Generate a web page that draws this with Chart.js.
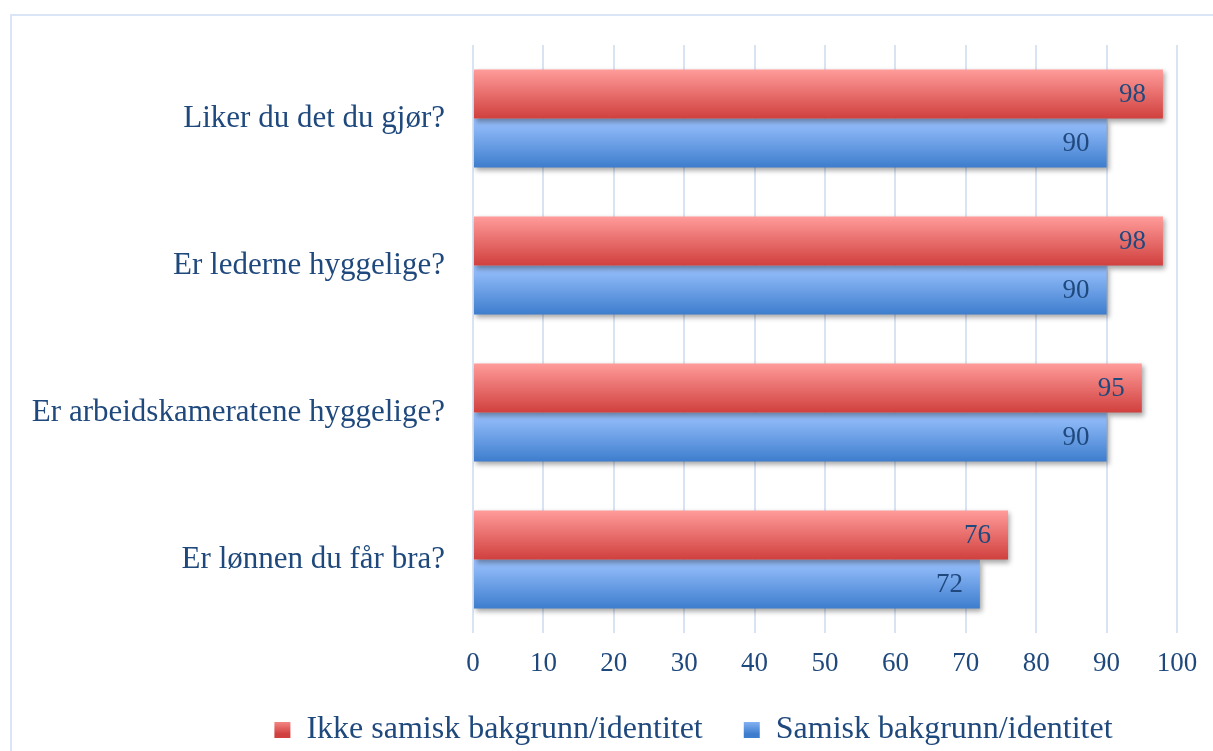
<!DOCTYPE html>
<html>
<head>
<meta charset="utf-8">
<script src="https://cdn.jsdelivr.net/npm/chart.js"></script>
<style>
  html, body { margin: 0; padding: 0; background: #fff; overflow: hidden; }
  #frame { position: absolute; left: 10px; top: 14px; width: 1300px; height: 800px; border: 2px solid #dae5f5; }
  #wrap { position: absolute; left: 0; top: 0; width: 1213px; height: 751px; }
</style>
</head>
<body>
<div id="frame"></div>
<div id="wrap"><canvas id="chart"></canvas></div>
<script>
const categories = ["Liker du det du gjør?", "Er lederne hyggelige?", "Er arbeidskameratene hyggelige?", "Er lønnen du får bra?"]
const ikkeSamisk = [98, 98, 95, 76]
const samisk = [90, 90, 90, 72]
const seriesNames = ["Ikke samisk bakgrunn/identitet", "Samisk bakgrunn/identitet"]
const xTicks = [0, 10, 20, 30, 40, 50, 60, 70, 80, 90, 100]

const textColor = "#1f497d"
const fontFamily = "'Liberation Serif', 'DejaVu Serif', serif"
const gradients = [
  ["#ff9c9a", "#d0403e"],
  ["#9cc3ff", "#3d7dcd"],
]

function vGradient(ctx, top, height, colors) {
  const g = ctx.createLinearGradient(0, top, 0, top + height)
  g.addColorStop(0, colors[0])
  g.addColorStop(1, colors[1])
  return g
}

// gradient per bar, soft shadow, value labels
const barLook = {
  id: "barLook",
  afterLayout(chart) {
    // the original legend sits right of centre (its frame is cut off on the right)
    const lg = chart.legend
    const h = lg.bottom - lg.top
    lg.left += 105
    lg.right += 105
    lg.top = 673
    lg.bottom = lg.top + h
  },
  beforeDatasetsDraw(chart) {
    const ctx = chart.ctx
    chart.data.datasets.forEach((ds, i) => {
      chart.getDatasetMeta(i).data.forEach((bar) => {
        const g = vGradient(ctx, bar.y - bar.height / 2, bar.height, gradients[i])
        bar.options = Object.assign({}, bar.options, { backgroundColor: g })
      })
    })
    ctx.save()
    ctx.shadowColor = "rgba(0,0,0,0.35)"
    ctx.shadowBlur = 5
    ctx.shadowOffsetX = 2
    ctx.shadowOffsetY = 3
  },
  afterDatasetsDraw(chart) {
    const ctx = chart.ctx
    ctx.restore()
    ctx.save()
    ctx.font = "27px " + fontFamily
    ctx.fillStyle = textColor
    ctx.textAlign = "right"
    ctx.textBaseline = "middle"
    chart.data.datasets.forEach((ds, i) => {
      chart.getDatasetMeta(i).data.forEach((bar, j) => {
        ctx.fillText(ds.data[j], bar.x - 17, bar.y + 1)
      })
    })
    ctx.restore()
  },
}

new Chart(document.getElementById("chart"), {
  type: "bar",
  data: {
    labels: categories,
    datasets: [
      { label: seriesNames[0], data: ikkeSamisk, backgroundColor: gradients[0][1] },
      { label: seriesNames[1], data: samisk, backgroundColor: gradients[1][1] },
    ],
  },
  options: {
    indexAxis: "y",
    responsive: true,
    maintainAspectRatio: false,
    animation: false,
    categoryPercentage: 0.668,
    barPercentage: 1,
    layout: { padding: { top: 45, right: 36, left: 0, bottom: -10 } },
    scales: {
      x: {
        min: 0,
        max: 100,
        afterBuildTicks: (scale) => { scale.ticks = xTicks.map((v) => ({ value: v })) },
        afterFit: (scale) => { scale.height = 45 },
        grid: { color: "#d8e3f3", lineWidth: 2, drawTicks: false },
        border: { display: false },
        ticks: { color: textColor, font: { family: fontFamily, size: 27 }, padding: 15 },
      },
      y: {
        afterFit: (scale) => { scale.width = 473 },
        grid: { display: false },
        border: { display: false },
        ticks: { color: textColor, font: { family: fontFamily, size: 31 }, padding: 20 },
      },
    },
    plugins: {
      tooltip: { enabled: false },
      legend: {
        position: "bottom",
        labels: {
          color: textColor,
          font: { family: fontFamily, size: 32 },
          boxWidth: 16,
          boxHeight: 16,
          padding: 41,
          generateLabels: (chart) => chart.data.datasets.map((ds, i) => ({
            text: ds.label,
            fillStyle: vGradient(chart.ctx, 718, 16, gradients[i]),
            strokeStyle: "rgba(0,0,0,0)",
            lineWidth: 0,
            fontColor: textColor,
            datasetIndex: i,
          })),
        },
      },
    },
  },
  plugins: [barLook],
})
</script>
</body>
</html>
